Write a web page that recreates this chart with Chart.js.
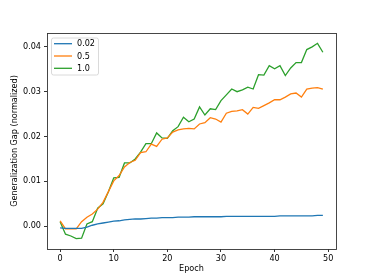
<!DOCTYPE html>
<html>
<head>
<meta charset="utf-8">
<script src="https://cdn.jsdelivr.net/npm/chart.js@4/dist/chart.umd.min.js"></script>
<style>
  html, body { margin: 0; padding: 0; background: #fff; }
  #wrap { width: 373px; height: 280px; }
</style>
</head>
<body>
<div id="wrap"><canvas id="chartGap" width="373" height="280"></canvas></div>
<script>
const epochs = [0,1,2,3,4,5,6,7,8,9,10,11,12,13,14,15,16,17,18,19,20,21,22,23,24,25,26,27,28,29,30,31,32,33,34,35,36,37,38,39,40,41,42,43,44,45,46,47,48,49]
const seriesLabels = ['0.02', '0.5', '1.0']
const gap002 = [-0.0004,-0.0005,-0.0005,-0.0005,-0.0005,-0.0002,0.0002,0.0005,0.0007,0.0009,0.0011,0.0012,0.0014,0.0015,0.0016,0.0016,0.0017,0.0018,0.0018,0.0019,0.0019,0.0019,0.0020,0.0020,0.0020,0.0021,0.0021,0.0021,0.0021,0.0021,0.0021,0.0022,0.0022,0.0022,0.0022,0.0022,0.0022,0.0022,0.0022,0.0022,0.0022,0.0023,0.0023,0.0023,0.0023,0.0023,0.0023,0.0023,0.0024,0.0024]
const gap05 = [0.0012,-0.0006,-0.0006,-0.0006,0.0010,0.0020,0.0027,0.0038,0.0053,0.0077,0.0101,0.0113,0.0132,0.0142,0.0147,0.0164,0.0166,0.0183,0.0178,0.0194,0.0197,0.0210,0.0215,0.0217,0.0218,0.0217,0.0228,0.0231,0.0242,0.0239,0.0232,0.0252,0.0256,0.0257,0.0260,0.0250,0.0265,0.0263,0.0269,0.0275,0.0282,0.0282,0.0288,0.0295,0.0297,0.0288,0.0306,0.0308,0.0309,0.0306]
const gap10 = [0.0010,-0.0018,-0.0022,-0.0028,-0.0027,0.0005,0.0010,0.0040,0.0050,0.0077,0.0108,0.0109,0.0141,0.0141,0.0150,0.0165,0.0184,0.0184,0.0208,0.0197,0.0196,0.0213,0.0222,0.0243,0.0233,0.0239,0.0266,0.0248,0.0262,0.0260,0.0280,0.0293,0.0306,0.0300,0.0304,0.0310,0.0306,0.0338,0.0337,0.0358,0.0351,0.0358,0.0336,0.0353,0.0365,0.0365,0.0394,0.0400,0.0408,0.0388]
const xTicks = [0, 10, 20, 30, 40, 50]
const yTicks = [0, 0.01, 0.02, 0.03, 0.04]

const colors = ['#1f77b4', '#ff7f0e', '#2ca02c']
const fontFamily = '"DejaVu Sans", sans-serif'

const makeSet = (label, values, color) => ({
    label,
    data: values.map((v, i) => ({ x: epochs[i], y: v })),
    borderColor: color,
    backgroundColor: color,
    borderWidth: 1.3,
    pointRadius: 0,
    tension: 0,
    fill: false
})

// frame round the plot area, like matplotlib spines
const framePlugin = {
    id: 'frame',
    afterDatasetsDraw(chart) {
        const { ctx, chartArea: a } = chart
        ctx.save()
        ctx.strokeStyle = '#333'
        ctx.lineWidth = 0.9
        ctx.strokeRect(Math.round(a.left) + 0.5, Math.round(a.top) + 0.5,
            Math.round(a.right - a.left), Math.round(a.bottom - a.top))
        ctx.restore()
    }
}

// legend box inside the top-left corner
const legendPlugin = {
    id: 'insideLegend',
    afterDraw(chart) {
        const { ctx, chartArea: a } = chart
        const x0 = a.left + 4, y0 = a.top + 4.5
        const w = 47, h = 37
        ctx.save()
        ctx.fillStyle = 'rgba(255,255,255,0.8)'
        ctx.strokeStyle = '#d0d0d0'
        ctx.lineWidth = 0.8
        ctx.beginPath()
        ctx.roundRect(x0 + 0.5, y0 + 0.5, w, h, 2)
        ctx.fill()
        ctx.stroke()
        ctx.font = '8.1px ' + fontFamily
        ctx.textBaseline = 'middle'
        ctx.fillStyle = '#000'
        chart.data.datasets.forEach((ds, i) => {
            const cy = y0 + 6.2 + i * 12.3
            ctx.strokeStyle = ds.borderColor
            ctx.lineWidth = 1.3
            ctx.beginPath()
            ctx.moveTo(x0 + 3, cy)
            ctx.lineTo(x0 + 21, cy)
            ctx.stroke()
            ctx.fillText(ds.label, x0 + 26, cy + 0.5)
        })
        ctx.restore()
    }
}

const canvasGap = document.getElementById('chartGap')
const contextGap = canvasGap.getContext('2d')
const chartGap = new Chart(contextGap, {
    type: 'line',
    data: {
        datasets: [
            makeSet(seriesLabels[0], gap002, colors[0]),
            makeSet(seriesLabels[1], gap05, colors[1]),
            makeSet(seriesLabels[2], gap10, colors[2])
        ]
    },
    options: {
        responsive: false,
        animation: false,
        devicePixelRatio: 1,
        layout: { padding: { left: 0, top: 33, right: 37, bottom: 0 } },
        plugins: {
            legend: { display: false },
            tooltip: { enabled: false }
        },
        scales: {
            x: {
                type: 'linear',
                min: -2.45,
                max: 51.45,
                afterFit: (s) => { s.height = 31 },
                afterBuildTicks: (s) => { s.ticks = xTicks.map(v => ({ value: v })) },
                grid: { drawOnChartArea: false, drawTicks: true, tickLength: 3, color: '#000', lineWidth: 0.8 },
                border: { display: false },
                ticks: {
                    color: '#000',
                    padding: 2,
                    maxRotation: 0,
                    font: { family: fontFamily, size: 8.1 },
                    callback: (v) => String(v)
                },
                title: {
                    display: true,
                    text: 'Epoch',
                    color: '#000',
                    font: { family: fontFamily, size: 8.1, lineHeight: 1.2 },
                    padding: { top: 0, bottom: 6 }
                }
            },
            y: {
                type: 'linear',
                min: -0.0051,
                max: 0.0431,
                afterFit: (s) => { s.width = 47 },
                afterBuildTicks: (s) => { s.ticks = yTicks.map(v => ({ value: v })) },
                grid: { drawOnChartArea: false, drawTicks: true, tickLength: 3, color: '#000', lineWidth: 0.8 },
                border: { display: false },
                ticks: {
                    color: '#000',
                    padding: 3,
                    font: { family: fontFamily, size: 8.1 },
                    callback: (v) => v.toFixed(2)
                },
                title: {
                    display: true,
                    text: 'Generalization Gap (normalized)',
                    color: '#000',
                    font: { family: fontFamily, size: 8.1, lineHeight: 1.2 },
                    padding: { top: 10, bottom: 0 }
                }
            }
        }
    },
    plugins: [framePlugin, legendPlugin]
})
</script>
</body>
</html>
